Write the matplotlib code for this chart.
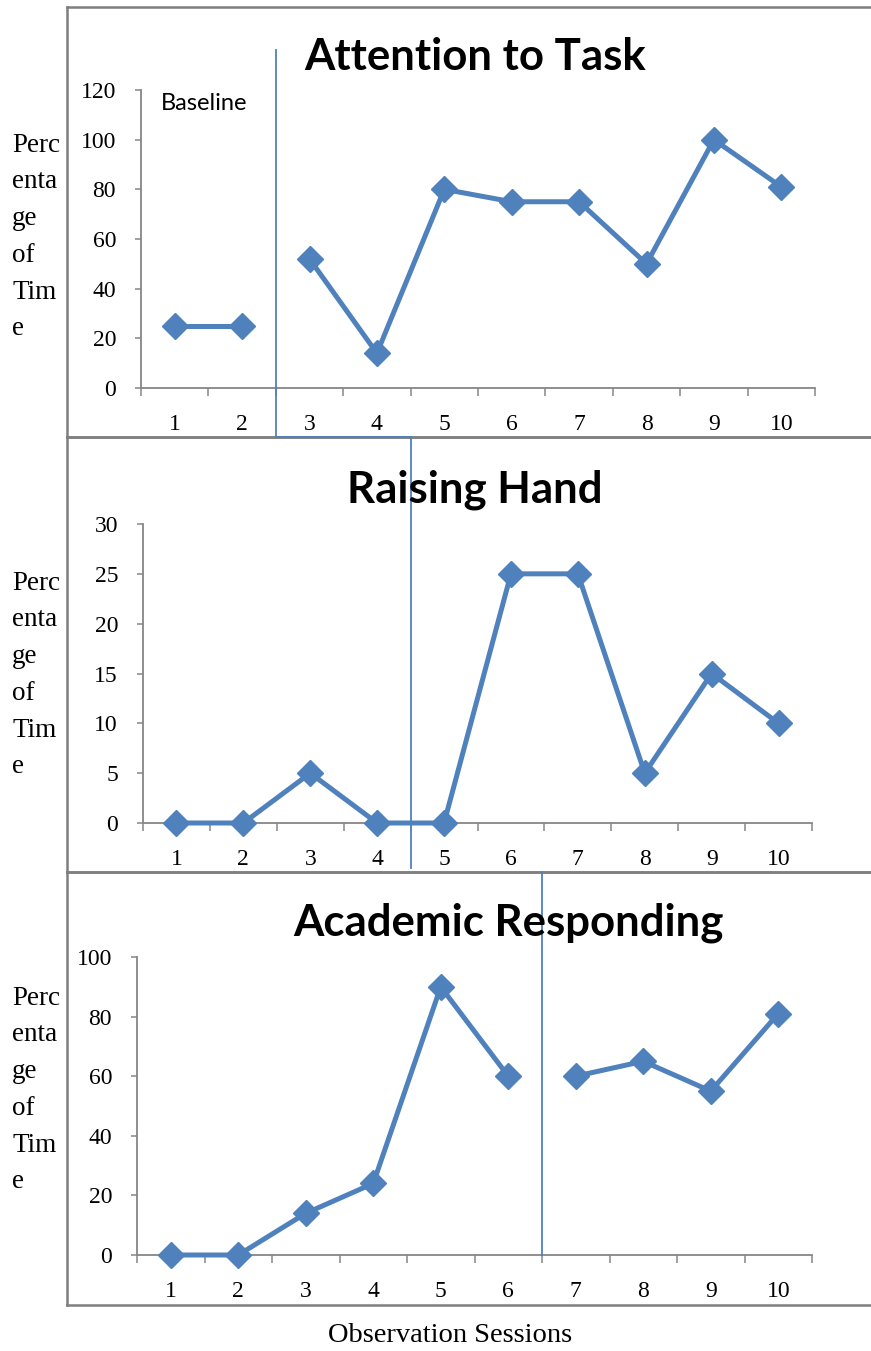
import numpy as np
import matplotlib
matplotlib.use('Agg')
import matplotlib.pyplot as plt
from matplotlib.lines import Line2D
from matplotlib.transforms import blended_transform_factory

# data
sessions = [1, 2, 3, 4, 5, 6, 7, 8, 9, 10]
attention = [25, 25, 52, 14, 80, 75, 75, 50, 100, 81]
raising_hand = [0, 0, 5, 0, 0, 25, 25, 5, 15, 10]
academic = [0, 0, 14, 24, 90, 60, 60, 65, 55, 81]
titles = ["Attention to Task", "Raising Hand", "Academic Responding"]
y_max = [120, 30, 100]
y_step = [20, 5, 20]
gap_after = [2, None, 6]     # line is broken at the phase change
phase_after = [2, 4, 6]      # phase change line between sessions
ylabel = "Perc\nenta\nge\nof\nTim\ne"
xlabel = "Observation Sessions"

W, H = 871, 1351
BLUE = '#4F81BD'
GRAY = '#868686'
SERIF = 'Liberation Serif'
SANS = 'Lato'

fig = plt.figure(figsize=(W / 100, H / 100), dpi=100)


def fx(x):
    return x / W


def fy(y):
    return 1 - y / H


# axes boxes in pixels: left, right, y of zero, y of top
boxes = [(141, 815, 388, 90), (143, 812, 823, 524), (137, 812, 1255, 957)]
frames = [(7, 437), (437, 872), (872, 1305)]
title_x = [475, 475, 508]
title_y = [57, 490, 923]
ylabel_y = [237, 675, 1090]

series = [attention, raising_hand, academic]
axes = []
for i, vals in enumerate(series):
    l, r, yb, yt = boxes[i]
    ax = fig.add_axes([fx(l), fy(yb), fx(r - l), (yb - yt) / H])
    axes.append(ax)
    ax.set_xlim(0.5, 10.5)
    ax.set_ylim(0, y_max[i])
    for s in ['top', 'right']:
        ax.spines[s].set_visible(False)
    for s in ['left', 'bottom']:
        ax.spines[s].set_color(GRAY)
        ax.spines[s].set_linewidth(1.3)
    ax.set_yticks(np.arange(0, y_max[i] + 1, y_step[i]))
    ax.set_xticks(sessions)
    ax.set_xticks(np.arange(0.5, 11, 1), minor=True)
    ax.tick_params(axis='x', which='major', length=0, pad=19, labelsize=17)
    ax.tick_params(axis='x', which='minor', length=6, width=1.1, color=GRAY, direction='out')
    ax.tick_params(axis='y', length=4, width=1.1, color=GRAY, pad=14, labelsize=17)
    for lab in ax.get_xticklabels() + ax.get_yticklabels():
        lab.set_fontfamily(SERIF)
    ax.patch.set_alpha(0)

    g = gap_after[i]
    if g is None:
        parts = [(sessions, vals)]
    else:
        parts = [(sessions[:g], vals[:g]), (sessions[g:], vals[g:])]
    for xs, ys in parts:
        ax.plot(xs, ys, color=BLUE, lw=3.6, marker='D', ms=13, clip_on=False, zorder=3)

    # frame around the panel
    top, bot = frames[i]
    fig.add_artist(Line2D([fx(67), fx(67)], [fy(top), fy(bot)], color='#7F7F7F', lw=1.8))
    fig.add_artist(Line2D([fx(67), 1], [fy(top), fy(top)], color='#7F7F7F', lw=1.8))
    fig.add_artist(Line2D([fx(67), 1], [fy(bot), fy(bot)], color='#7F7F7F', lw=1.8))

    fig.text(fx(title_x[i]), fy(title_y[i]), titles[i], ha='center', va='center',
             fontsize=31.5, fontweight='bold', family=SANS, zorder=5)
    fig.text(fx(12), fy(ylabel_y[i]), ylabel, ha='left', va='center', fontsize=19.5,
             family=SERIF, linespacing=1.62)

# phase change lines
t0 = blended_transform_factory(axes[0].transData, fig.transFigure)
t1 = blended_transform_factory(axes[1].transData, fig.transFigure)
t2 = blended_transform_factory(axes[2].transData, fig.transFigure)
p0 = phase_after[0] + 0.5
p1 = phase_after[1] + 0.5
p2 = phase_after[2] + 0.5
fig.add_artist(Line2D([p0, p0], [fy(50), fy(437)], color=BLUE, lw=1.3, transform=t0))
x_a = t0.transform((p0, 0))[0]
x_b = t1.transform((p1, 0))[0]
fig.add_artist(Line2D([x_a, x_b], [fy(437) * H, fy(437) * H], color=BLUE, lw=1.3, transform=None))
fig.add_artist(Line2D([p1, p1], [fy(437), fy(868)], color=BLUE, lw=1.3, transform=t1))
fig.add_artist(Line2D([p2, p2], [fy(872), fy(1255)], color=BLUE, lw=1.3, transform=t2))

fig.text(fx(161), fy(104), "Baseline", ha='left', va='center', fontsize=17, family=SANS)
fig.text(fx(450), fy(1335), xlabel, ha='center', va='center', fontsize=20.5, family=SERIF)

fig.savefig('out.png', dpi=100)
